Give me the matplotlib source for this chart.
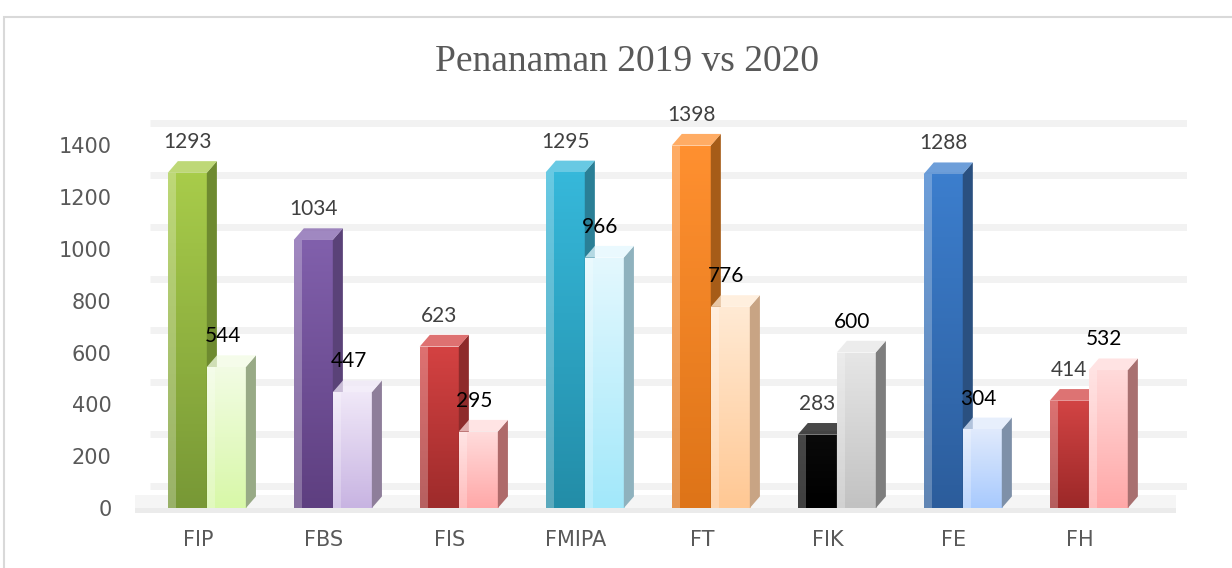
import numpy as np
import matplotlib.pyplot as plt
from matplotlib.patches import Rectangle, Polygon
from matplotlib.colors import LinearSegmentedColormap

# data
fakultas = ['FIP', 'FBS', 'FIS', 'FMIPA', 'FT', 'FIK', 'FE', 'FH']
th2019 = [1293, 1034, 623, 1295, 1398, 283, 1288, 414]
th2020 = [544, 447, 295, 966, 776, 600, 304, 532]
yticks = [0, 200, 400, 600, 800, 1000, 1200, 1400]

# warna (atas, bawah, sisi)
warna2019 = [('#A8CC4A', '#789836', '#6E8A30'),
             ('#8160AC', '#5E3F80', '#5A4278'),
             ('#D44242', '#9E2B2B', '#8E2B2B'),
             ('#36B8DA', '#238DA8', '#2A7F96'),
             ('#FF9030', '#DE7418', '#A65C18'),
             ('#0A0A0A', '#000000', '#5A5A5A'),
             ('#3C7ECD', '#2C5D9C', '#2A5080'),
             ('#D24444', '#9C2828', '#A85858')]
warna2020 = [('#F2FCE4', '#D8F8A8', '#98AA86'),
             ('#F0E8F8', '#C8B4E2', '#8E7E9A'),
             ('#FFDCDC', '#FFA8A8', '#AE6A6A'),
             ('#E4F8FE', '#A2E8FA', '#8FB2BE'),
             ('#FFEAD4', '#FFC894', '#C8A484'),
             ('#E6E6E6', '#C2C2C2', '#7E7E7E'),
             ('#E0EAFC', '#A8CAFE', '#7E90A8'),
             ('#FFDADA', '#FFA8A8', '#A87070')]

lebar = 0.31
geser = 0.07
dx = 0.08
dy = 45

fig = plt.figure(figsize=(12.32, 5.68), dpi=100)
fig.add_artist(Rectangle((4/1232, -0.1), 1.2, (568-17)/568 + 0.1, transform=fig.transFigure,
                         fill=False, edgecolor='#D9D9D9', linewidth=1.5))
ax = fig.add_axes([135/1232, 55/568, 1052/1232, 398/568])
ax.set_xlim(-0.5, 7.85)
ax.set_ylim(-19, 1516)

# gridlines (dinding belakang)
for t in yticks:
    ax.plot([-0.38, 7.85], [t + 85, t + 85], color='#F2F2F2', linewidth=5, zorder=0, solid_capstyle='butt')
ax.axhspan(-19, 0, xmin=0.0, xmax=0.99, facecolor='#EBEBEB', linewidth=0, zorder=0)
ax.axhspan(0, 50, xmin=0.0, xmax=0.99, facecolor='#F5F5F5', linewidth=0, zorder=0)


def batang(x0, h, warna, z):
    atas, bawah, sisi = warna
    x1 = x0 + lebar
    cmap = LinearSegmentedColormap.from_list('g', [bawah, atas])
    grad = np.linspace(0, 1, 100).reshape(-1, 1)
    rect = Rectangle((x0, 0), lebar, h, facecolor='none', edgecolor='none', zorder=z)
    ax.add_patch(rect)
    im = ax.imshow(grad, cmap=cmap, extent=[x0, x1, 0, h], origin='lower', aspect='auto', zorder=z)
    im.set_clip_path(rect)
    ax.add_patch(Polygon([[x1, 0], [x1, h], [x1 + dx, h + dy], [x1 + dx, dy]],
                         facecolor=sisi, edgecolor='none', zorder=z))
    ax.add_patch(Polygon([[x0, h], [x1, h], [x1 + dx, h + dy], [x0 + dx, h + dy]],
                         facecolor=atas, edgecolor='none', alpha=0.75, zorder=z))
    # pinggir terang
    ax.add_patch(Rectangle((x0, 0), lebar * 0.22, h, facecolor='white', alpha=0.25,
                           edgecolor='none', zorder=z + 0.1))


for i in range(len(fakultas)):
    xa = i + geser - lebar
    xb = i + geser
    batang(xa, th2019[i], warna2019[i], 2 + i * 0.01)
    batang(xb, th2020[i], warna2020[i], 3 + i * 0.01)
    ax.text(xa + lebar / 2, th2019[i] + 80, str(th2019[i]), ha='center', va='bottom',
            fontsize=15, family='Lato', color='#404040', zorder=10)
    ax.text(xb + lebar / 2 - 0.03, th2020[i] + 80, str(th2020[i]), ha='center', va='bottom',
            fontsize=15, family='Lato', color='black', zorder=10)

ax.set_xticks(range(len(fakultas)))
ax.set_xticklabels(fakultas)
ax.set_yticks(yticks)
ax.tick_params(axis='both', length=0, labelsize=15, labelcolor='#595959')
ax.tick_params(axis='y', pad=17)
ax.tick_params(axis='x', pad=12)
for s in ax.spines.values():
    s.set_visible(False)

fig.text(627/1232, 1 - 62/568, 'Penanaman 2019 vs 2020', ha='center', va='center',
         fontsize=27, family='Liberation Serif', color='#595959')

plt.savefig('out.png', dpi=100)
